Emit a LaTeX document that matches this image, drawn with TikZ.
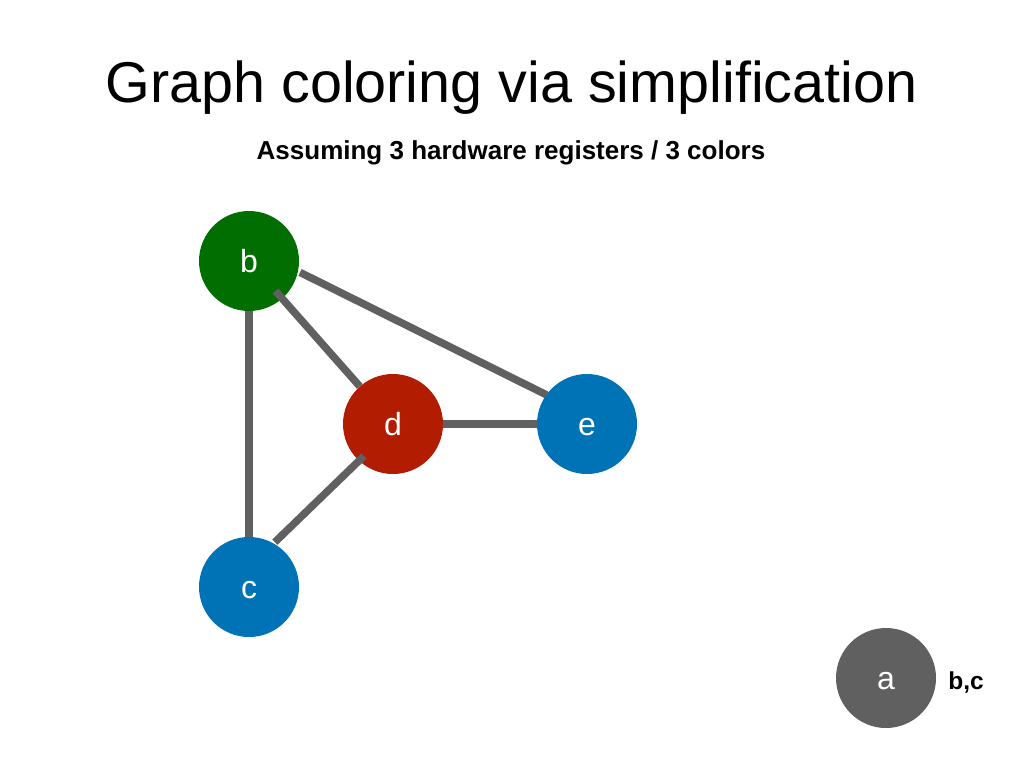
\documentclass[tikz,border=0pt]{standalone}
\usepackage{fontspec}
\setmainfont{Liberation Sans}
\definecolor{ngreen}{RGB}{0,110,0}
\definecolor{nred}{RGB}{178,28,0}
\definecolor{nblue}{RGB}{0,114,182}
\definecolor{ngray}{RGB}{96,96,96}
\definecolor{edgegray}{RGB}{96,96,96}
\begin{document}
\begin{tikzpicture}[x=1pt,y=-1pt,
  vert/.style={circle, minimum size=100pt, inner sep=0pt, text=white,
    font=\fontsize{32}{32}\selectfont, text height=23pt, text depth=0pt},
  edge/.style={draw=edgegray, line width=7.5pt}]
\useasboundingbox[fill=white] (0,0) rectangle (1024,768);
\node[anchor=base, font=\fontsize{57.5}{57.5}\selectfont] (title) at (511.5,102) {Graph coloring via simplification};
\node[anchor=base, font=\bfseries\fontsize{26}{26}\selectfont] (sub) at (511,159) {Assuming 3 hardware registers / 3 colors};
\node[vert, fill=ngreen] (b) at (249,261) {b};
\node[vert, fill=nred] (d) at (393,424) {d};
\node[vert, fill=nblue] (e) at (587,424) {e};
\node[vert, fill=nblue] (c) at (249,587) {c};
\node[vert, fill=ngray] (a) at (886,678) {a};
\node[font=\bfseries\fontsize{24.5}{24.5}\selectfont, text height=17.5pt, text depth=0pt] (alab) at (966,681) {b,c};
\draw[edge] (b) -- (c);
\draw[edge] (d) -- (e);
\draw[edge, shorten <=57pt, shorten >=45pt] ([yshift=14pt]b.center) -- ([yshift=9pt]e.center);
\draw[edge, shorten <=40pt] (b.center) -- (d);
\draw[edge, shorten <=46pt, shorten >=64.5pt] ([xshift=4pt]d.center) -- ([xshift=-20.5pt]c.center);
\end{tikzpicture}
\end{document}
